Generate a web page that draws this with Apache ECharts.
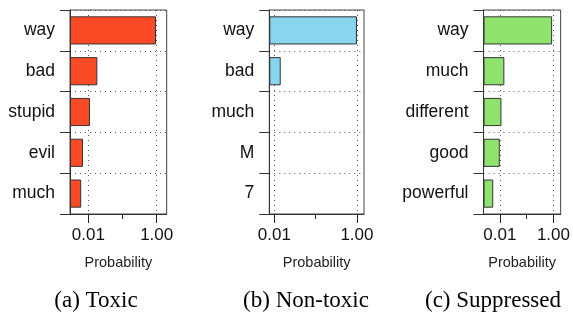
<!DOCTYPE html>
<html>
<head>
<meta charset="utf-8">
<script src="https://cdn.jsdelivr.net/npm/echarts@6/dist/echarts.min.js"></script>
<style>
  html, body { margin: 0; padding: 0; background: #fff; }
  #main { width: 573px; height: 315px; }
</style>
</head>
<body>
<div id="main"></div>
<script>
// data
var toxicWords = ['way', 'bad', 'stupid', 'evil', 'much']
var toxicProb = [0.953, 0.0184, 0.0112, 0.0070, 0.0062]
var nonToxicWords = ['way', 'bad', 'much', 'M', '7']
var nonToxicProb = [1.0, 0.0143, 0.004, 0.004, 0.004]
var suppressedWords = ['way', 'much', 'different', 'good', 'powerful']
var suppressedProb = [0.89, 0.0148, 0.0115, 0.0100, 0.0057]
var captions = ['(a) Toxic', '(b) Non-toxic', '(c) Suppressed']
var majorTicks = [0.01, 1]
var minorTicks = [0.1]

var sans = 'Liberation Sans'
var panels = [
  { words: toxicWords, values: toxicProb, color: '#FC4A26', left: 70, width: 96.7, min: 0.00292, max: 1.96, cx: 96 },
  { words: nonToxicWords, values: nonToxicProb, color: '#87D5EE', left: 269.3, width: 94.7, min: 0.00757, max: 1.48, cx: 306 },
  { words: suppressedWords, values: suppressedProb, color: '#90E26E', left: 483.5, width: 78.5, min: 0.00247, max: 1.85, cx: 493 }
]

var chart = echarts.init(document.getElementById('main'))
var grid = []
var xAxis = []
var yAxis = []
var series = []
var graphic = []

panels.forEach(function (p, i) {
  grid.push({
    left: p.left, top: 10, width: p.width, height: 204,
    show: true, borderColor: '#444', borderWidth: 1, backgroundColor: 'transparent'
  })
  xAxis.push({
    type: 'log', logBase: 10, gridIndex: i, position: 'bottom',
    min: p.min, max: p.max, startValue: p.min,
    name: 'Probability', nameLocation: 'middle', nameGap: 41,
    nameTextStyle: { fontFamily: sans, fontSize: 14.5, color: '#222' },
    axisLine: { show: true, lineStyle: { color: '#333', width: 1 } },
    axisTick: { show: true, inside: false, length: 9, customValues: majorTicks, lineStyle: { color: '#222' } },
    axisLabel: {
      show: true, customValues: majorTicks, margin: 13,
      fontFamily: sans, fontSize: 17, color: '#111',
      formatter: function (v) { return Number(v).toFixed(2) }
    },
    splitLine: { show: false }
  })
  yAxis.push({
    type: 'category', gridIndex: i, inverse: true, data: p.words,
    axisLine: { show: true, lineStyle: { color: '#333', width: 1 } },
    axisTick: { show: true, inside: false, length: 10, lineStyle: { color: '#333' } },
    axisLabel: { margin: 15, fontFamily: sans, fontSize: 17.5, color: '#111' },
    splitLine: { show: true, lineStyle: { color: '#555', type: [1, 4], width: 1 } }
  })
  series.push({
    type: 'bar', xAxisIndex: i, yAxisIndex: i,
    data: p.values,
    barCategoryGap: '31%',
    itemStyle: { color: p.color, borderColor: '#333', borderWidth: 1 },
    // dotted verticals at 0.01 and 1.00, behind the bars
    markLine: {
      silent: true, symbol: 'none', z: 1,
      label: { show: false },
      lineStyle: { color: '#555', type: [1, 4], width: 1 },
      data: majorTicks.map(function (v) { return { xAxis: v } })
    },
    animation: false
  })
  graphic.push({
    type: 'text', x: p.cx, y: 301,
    style: {
      text: captions[i], fill: '#000',
      font: '23px "Liberation Serif"', align: 'center', verticalAlign: 'middle'
    }
  })
})

// shorter tick at 0.1 on a second, bare axis in each grid
panels.forEach(function (p, i) {
  xAxis.push({
    type: 'log', logBase: 10, gridIndex: i, position: 'bottom',
    min: p.min, max: p.max,
    axisLine: { show: false },
    axisTick: { show: true, inside: false, length: 5, customValues: minorTicks, lineStyle: { color: '#222' } },
    axisLabel: { show: false },
    splitLine: { show: false }
  })
})

chart.setOption({
  animation: false,
  grid: grid,
  xAxis: xAxis,
  yAxis: yAxis,
  series: series,
  graphic: graphic
})
</script>
</body>
</html>
